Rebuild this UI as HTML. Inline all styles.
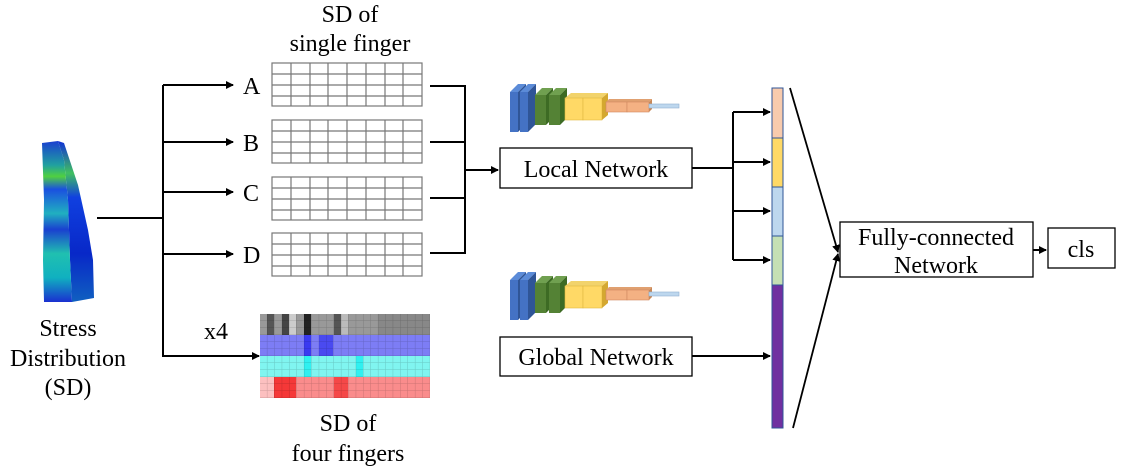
<!DOCTYPE html>
<html><head><meta charset="utf-8"><style>
body{margin:0;background:#fff;}
svg{display:block;font-family:"Liberation Serif",serif;}
</style></head><body>
<svg width="1123" height="475" viewBox="0 0 1123 475" xmlns="http://www.w3.org/2000/svg">
<defs>
<marker id="ar" markerWidth="8" markerHeight="8" refX="7" refY="4" orient="auto" markerUnits="userSpaceOnUse">
<path d="M0,0 L8,4 L0,8 z" fill="#000"/></marker>
<pattern id="hg" x="260" y="314" width="7.4" height="7" patternUnits="userSpaceOnUse">
<path d="M7.4,0 V7 M0,7 H7.4" stroke="rgba(0,0,0,0.18)" stroke-width="1" fill="none"/></pattern>
<linearGradient id="fg" x1="0" y1="0" x2="0" y2="1">
<stop offset="0" stop-color="#1a3fd0"/><stop offset="0.15" stop-color="#20a0a0"/>
<stop offset="0.22" stop-color="#50d040"/><stop offset="0.3" stop-color="#1a50e0"/>
<stop offset="0.45" stop-color="#20b0c0"/><stop offset="0.55" stop-color="#1a40d0"/>
<stop offset="0.7" stop-color="#20c0b0"/><stop offset="0.85" stop-color="#10b0c0"/>
<stop offset="1" stop-color="#1a30d0"/></linearGradient>
<linearGradient id="sg" x1="0" y1="0" x2="0" y2="1">
<stop offset="0" stop-color="#1030d8"/><stop offset="0.2" stop-color="#40c060"/>
<stop offset="0.35" stop-color="#1040e0"/><stop offset="0.7" stop-color="#0828c8"/>
<stop offset="1" stop-color="#1060c0"/></linearGradient>
</defs>

<!-- finger -->
<polygon points="58,141 64,143 78,185 88,230 93,260 94,298 72,302 70,260 68,200 64,160" fill="url(#sg)"/>
<polygon points="42,143 58,141 64,160 68,200 70,260 72,302 44,302 43,260 44,200" fill="url(#fg)"/>

<text x="68" y="336" font-size="24" text-anchor="middle">Stress</text>
<text x="68" y="366" font-size="24" text-anchor="middle">Distribution</text>
<text x="68" y="395" font-size="24" text-anchor="middle">(SD)</text>

<g stroke="#000" stroke-width="2" fill="none">
<path d="M97,218 H163"/>
<path d="M163,85 V357"/>
<path d="M163,85 H233" marker-end="url(#ar)"/>
<path d="M163,142 H233" marker-end="url(#ar)"/>
<path d="M163,192 H233" marker-end="url(#ar)"/>
<path d="M163,254 H233" marker-end="url(#ar)"/>
<path d="M163,356 H259" marker-end="url(#ar)"/>
<path d="M430,86 H465 V253 H430 M430,142 H465 M430,198 H465"/>
<path d="M465,170 H498" marker-end="url(#ar)"/>
<path d="M692,168 H733"/>
<path d="M733,112 V260"/>
<path d="M733,112 H770" marker-end="url(#ar)"/>
<path d="M733,162 H770" marker-end="url(#ar)"/>
<path d="M733,211 H770" marker-end="url(#ar)"/>
<path d="M733,260 H770" marker-end="url(#ar)"/>
<path d="M692,356 H770" marker-end="url(#ar)"/>
<path d="M790,88 L838,252" marker-end="url(#ar)" stroke-width="1.8"/>
<path d="M793,428 L838,254" marker-end="url(#ar)" stroke-width="1.8"/>
<path d="M1033,250 H1046" marker-end="url(#ar)"/>
</g>

<g font-size="24">
<text x="243" y="94">A</text><text x="243" y="151">B</text>
<text x="243" y="201">C</text><text x="243" y="263">D</text>
<text x="204" y="339">x4</text>
<text x="350" y="22" text-anchor="middle">SD of</text>
<text x="350" y="51" text-anchor="middle">single finger</text>
<text x="348" y="431" text-anchor="middle">SD of</text>
<text x="348" y="461" text-anchor="middle">four fingers</text>
</g>

<!-- grids -->
<g stroke="#777" stroke-width="1.2" fill="#fff">
<g id="gr"><rect x="272" y="63" width="150" height="43"/>
<path d="M291,63V106M310,63V106M328,63V106M347,63V106M366,63V106M385,63V106M403,63V106M272,74H422M272,85H422M272,96H422" fill="none"/></g>
<use href="#gr" y="57"/><use href="#gr" y="114"/><use href="#gr" y="170"/>
</g>

<!-- heatmap -->
<rect x="260" y="314" width="170" height="21" fill="#999"/>
<rect x="267" y="314" width="7" height="21" fill="#555"/><rect x="282" y="314" width="7" height="21" fill="#444"/>
<rect x="304" y="314" width="7" height="21" fill="#222"/><rect x="289" y="314" width="7" height="21" fill="#ccc"/>
<rect x="334" y="314" width="7" height="21" fill="#555"/><rect x="341" y="314" width="7" height="21" fill="#bbb"/>
<rect x="378" y="314" width="52" height="21" fill="#888"/>
<rect x="260" y="335" width="170" height="21" fill="#7d7df5"/>
<rect x="304" y="335" width="7" height="21" fill="#3a3af0"/><rect x="319" y="335" width="14" height="21" fill="#4a4af0"/>
<rect x="260" y="356" width="170" height="21" fill="#80f5f0"/>
<rect x="304" y="356" width="7" height="21" fill="#30f0f0"/><rect x="356" y="356" width="7" height="21" fill="#30f0f0"/>
<rect x="260" y="377" width="170" height="21" fill="#fa8c8c"/>
<rect x="260" y="377" width="14" height="21" fill="#fcc0c0"/><rect x="274" y="377" width="22" height="21" fill="#f53838"/>
<rect x="334" y="377" width="14" height="21" fill="#f54848"/>
<rect x="260" y="314" width="170" height="84" fill="url(#hg)"/>

<!-- CNN icons -->
<g id="cnn">
<g id="bl"><polygon points="510,92 518,84 526,84 518,92" fill="#5b8bd8"/><polygon points="518,92 526,84 526,124 518,132" fill="#2f5597"/><rect x="510" y="92" width="8" height="40" fill="#4472c4"/></g>
<use href="#bl" x="10"/>
<g id="gb"><polygon points="535,95 542,88 553,88 546,95" fill="#70a050"/><polygon points="546,95 553,88 553,118 546,125" fill="#3d6b24"/><rect x="535" y="95" width="11" height="30" fill="#548235"/></g>
<use href="#gb" x="14"/>
<polygon points="565,98 571,93 608,93 602,98" fill="#f2d36b"/>
<rect x="565" y="98" width="18" height="22" fill="#ffd966" stroke="#e0b840" stroke-width="0.6"/>
<rect x="583" y="98" width="19" height="22" fill="#ffd966" stroke="#e0b840" stroke-width="0.6"/><polygon points="602,98 608,93 608,115 602,120" fill="#d4a830"/>
<polygon points="606,102 609,99 652,99 649,102" fill="#e0a070"/>
<rect x="606" y="102" width="21" height="10" fill="#f4b183" stroke="#d08860" stroke-width="0.6"/>
<rect x="627" y="102" width="22" height="10" fill="#f4b183" stroke="#d08860" stroke-width="0.6"/>
<polygon points="649,102 652,99 652,109 649,112" fill="#c88858"/>
<rect x="649" y="104" width="30" height="4" fill="#bdd7ee" stroke="#8fb0d0" stroke-width="0.6"/>
</g>
<use href="#cnn" y="188"/>

<g fill="#fff" stroke="#000" stroke-width="1.3">
<rect x="500" y="148" width="192" height="40"/>
<rect x="500" y="337" width="192" height="39"/>
<rect x="840" y="222" width="193" height="55"/>
<rect x="1048" y="228" width="67" height="40"/>
</g>
<g font-size="24" text-anchor="middle">
<text x="596" y="177">Local Network</text>
<text x="596" y="365">Global Network</text>
<text x="936" y="245">Fully-connected</text>
<text x="936" y="273">Network</text>
<text x="1081" y="257">cls</text>
</g>

<!-- feature bar -->
<g stroke="#2f5597" stroke-width="1">
<rect x="772" y="88" width="11" height="50" fill="#f8cbad"/>
<rect x="772" y="138" width="11" height="49" fill="#ffd966"/>
<rect x="772" y="187" width="11" height="49" fill="#bdd7ee"/>
<rect x="772" y="236" width="11" height="49" fill="#c5e0b4"/>
<rect x="772" y="285" width="11" height="143" fill="#7030a0"/>
</g>
</svg>
</body></html>
